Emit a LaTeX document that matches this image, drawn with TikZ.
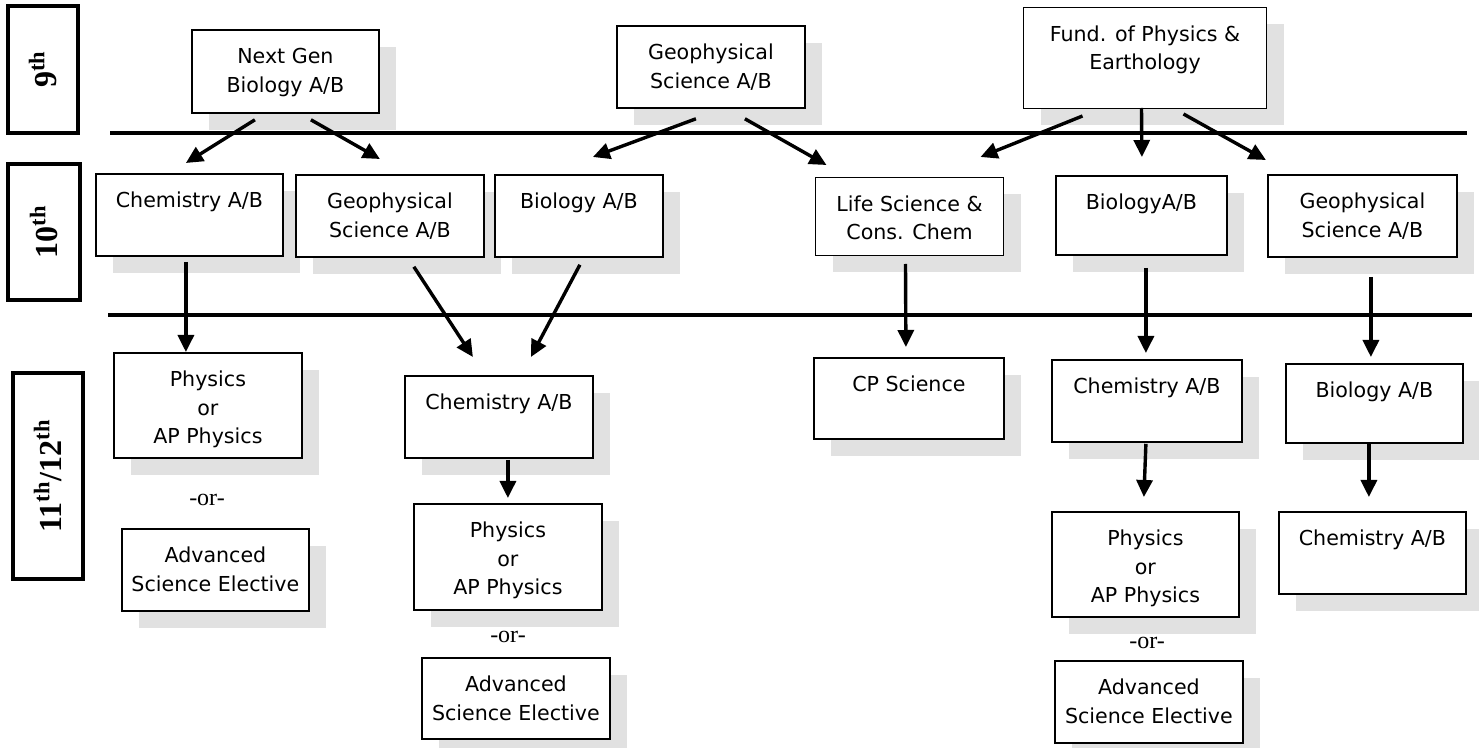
\documentclass[tikz,border=0pt]{standalone}
\usepackage{fontspec}
\setmainfont{DejaVu Sans}
\newfontfamily\gradefont{Liberation Serif}
\usetikzlibrary{arrows.meta,shadows,calc}

\definecolor{shadowgray}{HTML}{E1E1E1}

% one drawing unit is one pixel of the chart, y running downwards
\newdimen\unitpx
\unitpx=0.5pt

% course text: top aligned inside a box of the given width and height
\newcommand\coursetext[3]{%
  \parbox[c][#2\unitpx][t]{#1\unitpx}{\centering
    \fontsize{10.3pt}{14.2pt}\selectfont\rule{0pt}{17pt}#3\par}}

\tikzset{
  course/.style={draw, line width=0.9pt, fill=white, inner sep=0pt,
    anchor=north west,
    drop shadow={shadow xshift=8.5pt, shadow yshift=-8.5pt,
      fill=shadowgray, opacity=1}},
  thin course/.style={course, line width=0.5pt},
  grade/.style={draw, line width=2pt, rotate=90, inner sep=0pt,
    font=\gradefont\fontsize{16pt}{16pt}\selectfont\bfseries},
  ortext/.style={inner sep=0pt,
    font=\gradefont\fontsize{12pt}{12pt}\selectfont},
  flow/.style={line width=1.7pt, -{Triangle[length=8.5pt,width=8pt]}},
  divider/.style={line width=1.7pt}
}

\begin{document}
\begin{tikzpicture}[x=0.5pt, y=-0.5pt]
\useasboundingbox (0,0) rectangle (1479,748);
\fill[white] (0,0) rectangle (1479,748);

% grade labels
\node[grade, minimum width=63.5pt, minimum height=35pt] (g9) at (43,69.5) {9\textsuperscript{th}};
\node[grade, minimum width=68pt, minimum height=36pt] (g10) at (44,232) {10\textsuperscript{th}};
\node[grade, minimum width=103pt, minimum height=35pt] (g11) at (48,476) {11\textsuperscript{th}/12\textsuperscript{th}};

% grade dividers
\draw[divider] (110,133) -- (1467,133);
\draw[divider] (108,315) -- (1472,315);

% 9th grade
\node[course] (nextgen) at (191,29) {\coursetext{187}{83}{Next Gen\\Biology A/B}};
\node[course] (geo9) at (616,25) {\coursetext{188}{82}{Geophysical\\Science A/B}};
\node[thin course] (fund) at (1023,7) {\coursetext{243}{101}{Fund. of Physics \&\\Earthology}};

% 10th grade
\node[course] (chem10) at (95,173) {\coursetext{187}{82}{Chemistry A/B}};
\node[course] (geo10a) at (295,174) {\coursetext{188}{82}{Geophysical\\Science A/B}};
\node[course] (bio10a) at (494,174) {\coursetext{168}{82}{Biology A/B}};
\node[thin course] (life10) at (815,177) {\coursetext{188}{78}{Life Science \&\\Cons. Chem}};
\node[course] (bio10b) at (1055,175) {\coursetext{171}{79}{BiologyA/B}};
\node[course] (geo10b) at (1267,174) {\coursetext{189}{82}{Geophysical\\Science A/B}};

% 11th/12th grade
\node[course] (phys11a) at (113,352) {\coursetext{188}{105}{Physics\\or\\AP Physics}};
\node[ortext] (or1) at (207,500) {-or-};
\node[course] (adv11a) at (121,528) {\coursetext{187}{82}{Advanced\\Science Elective}};

\node[course] (chem11a) at (404,375) {\coursetext{188}{82}{Chemistry A/B}};
\node[course] (phys11b) at (413,503) {\coursetext{188}{106}{Physics\\or\\AP Physics}};
\node[ortext] (or2) at (508,637) {-or-};
\node[course] (adv11b) at (421,657) {\coursetext{188}{81}{Advanced\\Science Elective}};

\node[course] (cp11) at (813,357) {\coursetext{190}{81}{CP Science}};

\node[course] (chem11b) at (1051,359) {\coursetext{190}{82}{Chemistry A/B}};
\node[course] (phys11c) at (1051,511) {\coursetext{187}{105}{Physics\\or\\AP Physics}};
\node[ortext] (or3) at (1147,643) {-or-};
\node[course] (adv11c) at (1054,660) {\coursetext{188}{82}{Advanced\\Science Elective}};

\node[course] (bio11) at (1285,363) {\coursetext{177}{79}{Biology A/B}};
\node[course] (chem11c) at (1278,511) {\coursetext{187}{82}{Chemistry A/B}};

% 9th -> 10th
\draw[flow] ($(nextgen.south)+(-30.5,6)$) -- ($(chem10.north)+(-3.5,-10)$);
\draw[flow] ($(nextgen.south)+(25.5,6)$) -- ($(geo10a.north)+(-10,-15)$);
\draw[flow] ($(geo9.south)+(-15,10)$) -- ($(bio10a.north)+(14,-17)$);
\draw[flow] ($(geo9.south)+(34,10)$) -- ($(life10.north)+(-83,-12)$);
\draw[flow] ($(fund.south)+(-62.5,7)$) -- ($(life10.north)+(71,-20)$);
\draw[flow] ($(fund.south)+(-3.5,-1)$) -- ($(bio10b.north)+(0.5,-18)$);
\draw[flow] ($(fund.south)+(38.5,5)$) -- ($(geo10b.north)+(-96.5,-14)$);

% 10th -> 11th/12th
\draw[flow] ($(chem10.south)+(-3.5,5)$) -- ($(phys11a.north)+(-22,0)$);
\draw[flow] ($(geo10a.south)+(24,9)$) -- ($(chem11a.north)+(-26,-18)$);
\draw[flow] ($(bio10a.south)+(1,7)$) -- ($(chem11a.north)+(32,-18)$);
\draw[flow] ($(life10.south)+(-4,8)$) -- ($(cp11.north)+(-3,-10)$);
\draw[flow] ($(bio10b.south)+(4.5,12)$) -- ($(chem11b.north)+(-1,-6)$);
\draw[flow] ($(geo10b.south)+(8.5,19)$) -- ($(bio11.north)+(-3.5,-6)$);

% within 11th/12th
\draw[flow] ($(chem11a.south)+(9,1)$) -- ($(phys11b.north)+(0,-5)$);
\draw[flow] ($(chem11b.south)+(-1,1)$) -- ($(phys11c.north)+(-1.5,-14)$);
\draw[flow] ($(bio11.south)+(-5.5,0)$) -- ($(chem11c.north)+(-3.5,-14)$);
\end{tikzpicture}
\end{document}
